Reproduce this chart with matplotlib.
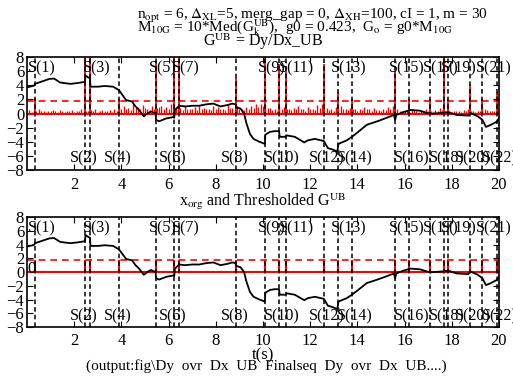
import matplotlib
matplotlib.use('Agg')
import matplotlib.pyplot as plt
import matplotlib.transforms as mtransforms

plt.rcParams['font.family'] = ['Liberation Serif', 'DejaVu Serif']
plt.rcParams['mathtext.fontset'] = 'stix'
plt.rcParams['font.size'] = 11

# GUB curve (t, value)
t_gub = [0.0, 0.3, 0.34, 0.6, 0.95, 1.15, 1.4, 1.6, 1.85, 2.1, 2.3, 2.46, 2.48, 2.6, 2.67, 2.69,
         3.0, 3.3, 3.65, 3.9, 4.05, 4.2, 4.45, 4.6, 4.75, 4.95, 5.1, 5.25, 5.45, 5.47, 5.6, 5.9,
         6.2, 6.24, 6.27, 6.45, 6.7, 7.0, 7.3, 7.6, 7.9, 8.2, 8.5, 8.7, 8.84, 8.86, 9.05, 9.2,
         9.3, 9.45, 9.6, 9.85, 10.08, 10.1, 10.3, 10.5, 10.68, 10.71, 10.96, 11.0, 11.35, 11.6,
         11.75, 11.9, 12.2, 12.58, 12.75, 12.95, 13.15, 13.2, 13.55, 13.77, 14.0, 14.4, 14.85,
         15.25, 15.55, 15.6, 15.65, 15.95, 16.25, 16.65, 17.08, 17.65, 17.85, 18.2, 18.7, 18.78,
         19.1, 19.3, 19.45, 19.66, 19.94, 20.0]
v_gub = [3.7, 3.95, 4.2, 4.5, 4.9, 4.95, 4.4, 4.3, 4.2, 4.3, 4.4, 4.5, 5.4, 5.1, 5.0, 3.8,
         3.8, 3.9, 3.8, 3.3, 2.6, 1.9, 1.7, 1.0, 0.5, -0.4, 0.0, 0.3, 0.0, -0.9, -1.1, -0.7,
         -0.5, -0.6, 0.5, 1.1, 1.0, 1.1, 1.1, 1.3, 1.4, 1.0, 1.2, 1.4, 1.3, 0.9, 0.7, 0.0,
         -1.4, -2.9, -3.6, -4.0, -4.3, -3.0, -2.6, -2.5, -2.5, -3.3, -3.3, -3.1, -3.3, -3.8,
         -4.1, -3.8, -3.6, -3.9, -4.9, -5.1, -5.4, -4.3, -3.8, -3.3, -2.7, -1.6, -1.1,
         -0.6, -0.2, -0.9, -0.2, 0.2, 0.5, 0.4, -0.05, 0.1, 0.2, -0.2, -0.3, 0.1,
         -0.4, -0.9, -1.9, -1.6, -1.1, -0.6]

# segment boundaries S(1)..S(22)
seg_t = [0.33, 2.47, 2.68, 3.92, 5.46, 6.25, 6.45, 8.85, 10.09, 10.7, 10.97, 12.6, 13.16,
         13.77, 15.61, 16.2, 17.08, 17.69, 17.82, 18.78, 19.3, 19.91]
seg_peak = [2, 8, 8, 2, 7.5, 8, 8, 5, 8, 7, 6, 7, 3, 2, 6, 2, 2, 8, 2, 4, 2, 3]

# small red GUB_k bars, every 0.2 s from 0.1 s
noise = [0.5, 0.3, 0.6, 0.4, 0.3, 0.5, 0.2, 0.4, 0.3, 0.5,
         0.4, 0.6, 0.3, 0.5, 0.7, 0.4, 0.3, 0.5, 0.6, 0.9,
         1.1, 0.8, 1.3, 0.9, 1.2, 0.7, 1.0, 0.8, 1.1, 0.9,
         1.4, 0.9, 0.8, 1.0, 0.7, 0.9, 1.1, 0.8, 0.7, 1.0,
         0.9, 0.6, 1.2, 0.8, 1.0, 0.7, 0.9, 1.1, 1.3, 1.4,
         1.2, 0.8, 0.6, 1.0, 0.9, 0.7, 0.8, 1.0, 0.6, 0.9,
         0.7, 1.2, 1.3, 0.8, 0.6, 0.9, 1.1, 0.7, 0.8, 0.6,
         0.7, 0.9, 0.6, 0.8, 0.5, 0.7, 0.9, 1.1, 0.6, 0.4,
         0.5, 0.7, 0.3, 0.4, 0.6, 0.3, 0.5, 0.8, 0.4, 0.3,
         0.4, 0.3, 0.5, 0.6, 0.3, 0.4, 0.9, 0.5, 0.4, 0.6]
t_noise = [0.1 + 0.2 * i for i in range(len(noise))]
# extra thinner bars in between
noise_b = [0.2, 0.4, 0.3, 0.2, 0.4, 0.3, 0.5, 0.2, 0.3, 0.2,
           0.3, 0.2, 0.4, 0.3, 0.2, 0.5, 0.4, 0.2, 0.3, 0.6,
           0.7, 0.5, 0.9, 0.6, 0.8, 0.5, 0.6, 0.9, 0.7, 0.6,
           0.8, 0.6, 0.5, 0.7, 0.6, 0.5, 0.7, 0.6, 0.5, 0.6,
           0.7, 0.5, 0.8, 0.6, 0.7, 0.5, 0.6, 0.8, 0.9, 1.0,
           0.8, 0.5, 0.4, 0.7, 0.6, 0.5, 0.6, 0.7, 0.4, 0.6,
           0.5, 0.8, 0.9, 0.5, 0.4, 0.6, 0.7, 0.5, 0.6, 0.4,
           0.5, 0.6, 0.4, 0.5, 0.3, 0.5, 0.6, 0.7, 0.4, 0.3,
           0.3, 0.5, 0.2, 0.3, 0.4, 0.2, 0.3, 0.5, 0.3, 0.2,
           0.3, 0.2, 0.3, 0.4, 0.2, 0.3, 0.6, 0.3, 0.3, 0.4]
t_noise_b = [0.2 + 0.2 * i for i in range(len(noise_b))]

G0 = 1.8

fig = plt.figure(figsize=(5.13, 3.79), dpi=100)
ax1 = fig.add_axes([0.0526, 0.5515, 0.920, 0.298])
ax2 = fig.add_axes([0.0526, 0.1372, 0.920, 0.290])


def style(ax):
    ax.set_xlim(0, 20)
    ax.set_ylim(-8, 8)
    ax.set_xticks(range(2, 21, 2))
    ax.set_yticks(range(-8, 9, 2))
    ax.tick_params(direction='in', top=True, right=True, length=4, labelsize=12)
    ax.tick_params(axis='y', pad=2)
    ax.tick_params(axis='x', pad=4)
    for s in ax.spines.values():
        s.set_linewidth(1.2)


def seg_lines(ax):
    trans = mtransforms.blended_transform_factory(ax.transData, ax.transAxes)
    for i, t in enumerate(seg_t):
        ax.axvline(t, color='black', ls=(0, (3, 2)), lw=1.1, zorder=4)
        lab = 'S(%d)' % (i + 1)
        if i % 2 == 0:
            ax.annotate(lab, (t, 0.9), xycoords=trans, xytext=(-5, 0), textcoords='offset points',
                        ha='left', va='center', fontsize=11.5, annotation_clip=False, zorder=5)
        else:
            ax.annotate(lab, (t, 0.1), xycoords=trans, xytext=(-11, 0), textcoords='offset points',
                        ha='left', va='center', fontsize=11.5, annotation_clip=False, zorder=5)


# top panel
style(ax1)
ax1.set_xticklabels([''] * 10)
ax1.vlines(t_noise, 0, noise, color='red', lw=1.0)
ax1.vlines(t_noise_b, 0, noise_b, color='red', lw=0.8)
ax1.vlines(seg_t, 0, seg_peak, color='red', lw=1.3)
ax1.axhline(0, color='red', lw=1.5)
ax1.axhline(G0, color='red', lw=1.2, ls=(0, (4, 3)))
ax1.plot(t_gub, v_gub, color='black', lw=1.3, zorder=3)
seg_lines(ax1)
for k in range(2, 21, 2):
    ax1.text(k, -9.0, str(k), ha='center', va='top', fontsize=12)
ax1.set_title(r'G$^{\mathrm{UB}}$ = Dy/Dx_UB', fontsize=11.5, pad=8)

# bottom panel
style(ax2)
ax2.axhline(0, color='red', lw=1.5)
ax2.axhline(G0, color='red', lw=1.2, ls=(0, (4, 3)))
ax2.vlines(seg_t, 0, G0, color='red', lw=1.5)
ax2.plot(t_gub, v_gub, color='black', lw=1.3, zorder=3)
seg_lines(ax2)
ax2.text(0.0, 0.4, '0', ha='left', va='center', fontsize=12)
ax2.set_title(r'x$_{\mathrm{org}}$ and Thresholded G$^{\mathrm{UB}}$', fontsize=11.5, pad=8)
ax2.set_xlabel('t(s)', fontsize=12, labelpad=-1)

fig.text(0.267, 0.958,
         r'n$_{\mathrm{opt}}$ = 6, $\Delta_{\mathrm{XL}}$=5, merg_gap = 0, $\Delta_{\mathrm{XH}}$=100, cI = 1, m = 30',
         ha='left', va='center', fontsize=11)
fig.text(0.267, 0.926,
         r'M$_{\mathrm{10G}}$ = 10*Med(G$^{\mathrm{UB}}_{\mathrm{k}}$),  g0 = 0.423,  G$_{\mathrm{o}}$ = g0*M$_{\mathrm{10G}}$',
         ha='left', va='center', fontsize=11)
fig.text(0.52, 0.035, r'(output:fig\Dy  ovr  Dx  UB  Finalseq  Dy  ovr  Dx  UB....)',
         ha='center', va='center', fontsize=11)

fig.savefig('out.png', dpi=100)
